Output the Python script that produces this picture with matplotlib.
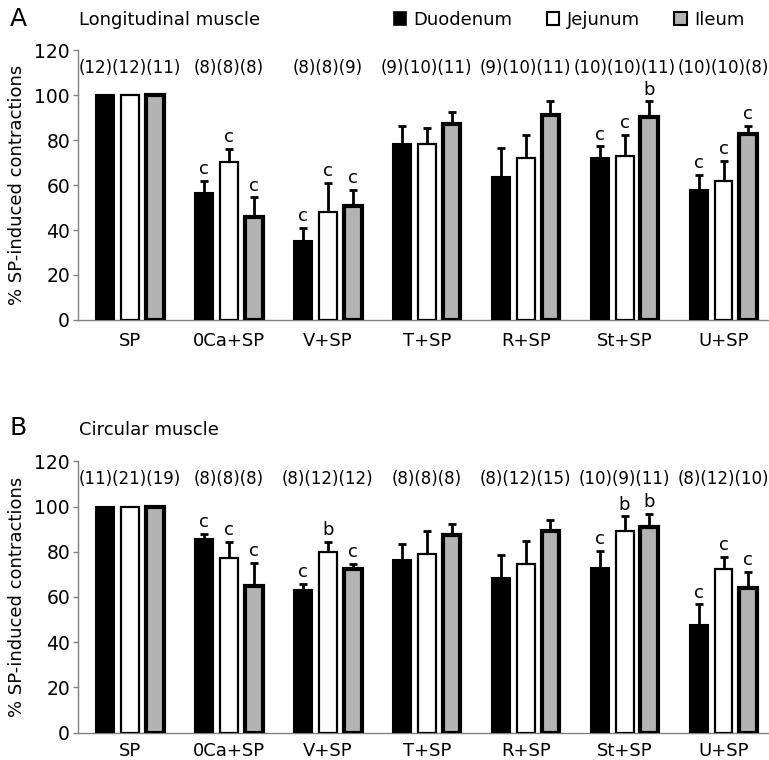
import matplotlib
matplotlib.use("Agg")
import matplotlib.pyplot as plt
import matplotlib.patches as mpatches
import numpy as np

plt.rcParams['font.family'] = ['DejaVu Sans']

categories = ['SP', '0Ca+SP', 'V+SP', 'T+SP', 'R+SP', 'St+SP', 'U+SP']
series = ['Duodenum', 'Jejunum', 'Ileum']

# Panel A: Longitudinal muscle
duo_A = [100, 56.3, 35.1, 78.2, 63.7, 72.1, 57.6]
jej_A = [100, 70.1, 48.1, 78.2, 72.1, 73.0, 61.8]
ile_A = [100, 45.8, 50.8, 87.0, 91.3, 90.4, 82.5]
duo_A_err = [0, 5.5, 5.8, 7.9, 12.9, 5.1, 7.0]
jej_A_err = [0, 6.0, 12.8, 7.4, 10.3, 9.4, 8.9]
ile_A_err = [0, 8.7, 7.1, 5.3, 6.0, 6.8, 3.9]
n_A = ['(12)(12)(11)', '(8)(8)(8)', '(8)(8)(9)', '(9)(10)(11)',
       '(9)(10)(11)', '(10)(10)(11)', '(10)(10)(8)']
sig_duo_A = ['', 'c', 'c', '', '', 'c', 'c']
sig_jej_A = ['', 'c', 'c', '', '', 'c', 'c']
sig_ile_A = ['', 'c', 'c', '', '', 'b', 'c']

# Panel B: Circular muscle
duo_B = [100, 85.8, 63.3, 76.2, 68.2, 72.6, 47.5]
jej_B = [100, 77.4, 80.0, 79.1, 74.7, 89.2, 72.3]
ile_B = [100, 64.8, 72.2, 87.3, 89.1, 90.8, 63.8]
duo_B_err = [0, 2.2, 2.4, 7.4, 10.4, 7.9, 9.2]
jej_B_err = [0, 7.1, 4.5, 10.1, 10.1, 6.4, 5.5]
ile_B_err = [0, 10.3, 2.5, 5.0, 4.8, 5.8, 7.4]
n_B = ['(11)(21)(19)', '(8)(8)(8)', '(8)(12)(12)', '(8)(8)(8)',
       '(8)(12)(15)', '(10)(9)(11)', '(8)(12)(10)']
sig_duo_B = ['', 'c', 'c', '', '', 'c', 'c']
sig_jej_B = ['', 'c', 'b', '', '', 'b', 'c']
sig_ile_B = ['', 'c', 'c', '', '', 'b', 'c']

yticks = [0, 20, 40, 60, 80, 100, 120]

GRAY = '#b3b3b3'
SPINE = '#808080'
styles = [dict(color='black', edgecolor='black', linewidth=1.5),
          dict(color='white', edgecolor='black', linewidth=1.6),
          dict(color=GRAY, edgecolor='black', linewidth=3.0)]

fig = plt.figure(figsize=(7.69, 7.60), dpi=100)
axA = fig.add_axes([0.101, 0.579, 0.899, 0.355])
axB = fig.add_axes([0.101, 0.036, 0.899, 0.357])


def draw(ax, means, errs, sigs, counts, pad):
    x = np.arange(len(categories))
    offs = [-0.25, 0.0, 0.25]
    for k in range(3):
        xs = x + offs[k]
        ax.bar(xs, means[k], width=0.18, zorder=3, **styles[k])
        m = np.array(means[k], dtype=float)
        e = np.array(errs[k], dtype=float)
        sel = e > 0
        ax.errorbar(xs[sel], m[sel], yerr=[np.zeros(sel.sum()), e[sel]],
                    fmt='none', ecolor='black', elinewidth=2.0,
                    capsize=3.0, capthick=2.0, zorder=2)
        for i in range(len(categories)):
            if sigs[k][i]:
                ax.text(xs[i], m[i] + e[i] + 3.0, sigs[k][i], ha='center',
                        va='baseline', fontsize=13, zorder=4)
    for i, c in enumerate(counts):
        ax.text(x[i], 112, c, ha='center', va='center', fontsize=12,
                clip_on=False)
    ax.set_xlim(-0.53, 6.46)
    ax.set_ylim(0, 120)
    ax.set_yticks(yticks)
    ax.set_xticks(x)
    ax.set_xticklabels(categories, fontsize=13)
    ax.tick_params(axis='y', labelsize=13.5, length=3.5, width=1,
                   color=SPINE, pad=2)
    ax.tick_params(axis='x', length=0, pad=pad)
    for s in ['top', 'right']:
        ax.spines[s].set_visible(False)
    for s in ['left', 'bottom']:
        ax.spines[s].set_color(SPINE)
        ax.spines[s].set_linewidth(1.0)
    ax.set_ylabel('% SP-induced contractions', fontsize=13, labelpad=6)


draw(axA, [duo_A, jej_A, ile_A], [duo_A_err, jej_A_err, ile_A_err],
     [sig_duo_A, sig_jej_A, sig_ile_A], n_A, 9)
draw(axB, [duo_B, jej_B, ile_B], [duo_B_err, jej_B_err, ile_B_err],
     [sig_duo_B, sig_jej_B, sig_ile_B], n_B, 6.5)

fig.text(10 / 769, 1 - 19 / 760, 'A', fontsize=18, ha='left', va='center')
fig.text(79 / 769, 1 - 20 / 760, 'Longitudinal muscle', fontsize=13,
         ha='left', va='center')
fig.text(10 / 769, 1 - 428 / 760, 'B', fontsize=18, ha='left', va='center')
fig.text(79 / 769, 1 - 430 / 760, 'Circular muscle', fontsize=13,
         ha='left', va='center')

handles = [mpatches.Patch(facecolor='black', edgecolor='black', linewidth=1.2),
           mpatches.Patch(facecolor='white', edgecolor='black', linewidth=1.5),
           mpatches.Patch(facecolor=GRAY, edgecolor='black', linewidth=1.5)]
fig.legend(handles, series, loc='center', bbox_to_anchor=(569 / 769, 1 - 20 / 760),
           ncol=3, frameon=False, fontsize=13, handlelength=0.7,
           handleheight=0.7, handletextpad=0.4, columnspacing=1.9,
           borderaxespad=0, borderpad=0)

fig.savefig('out.png', dpi=100)
